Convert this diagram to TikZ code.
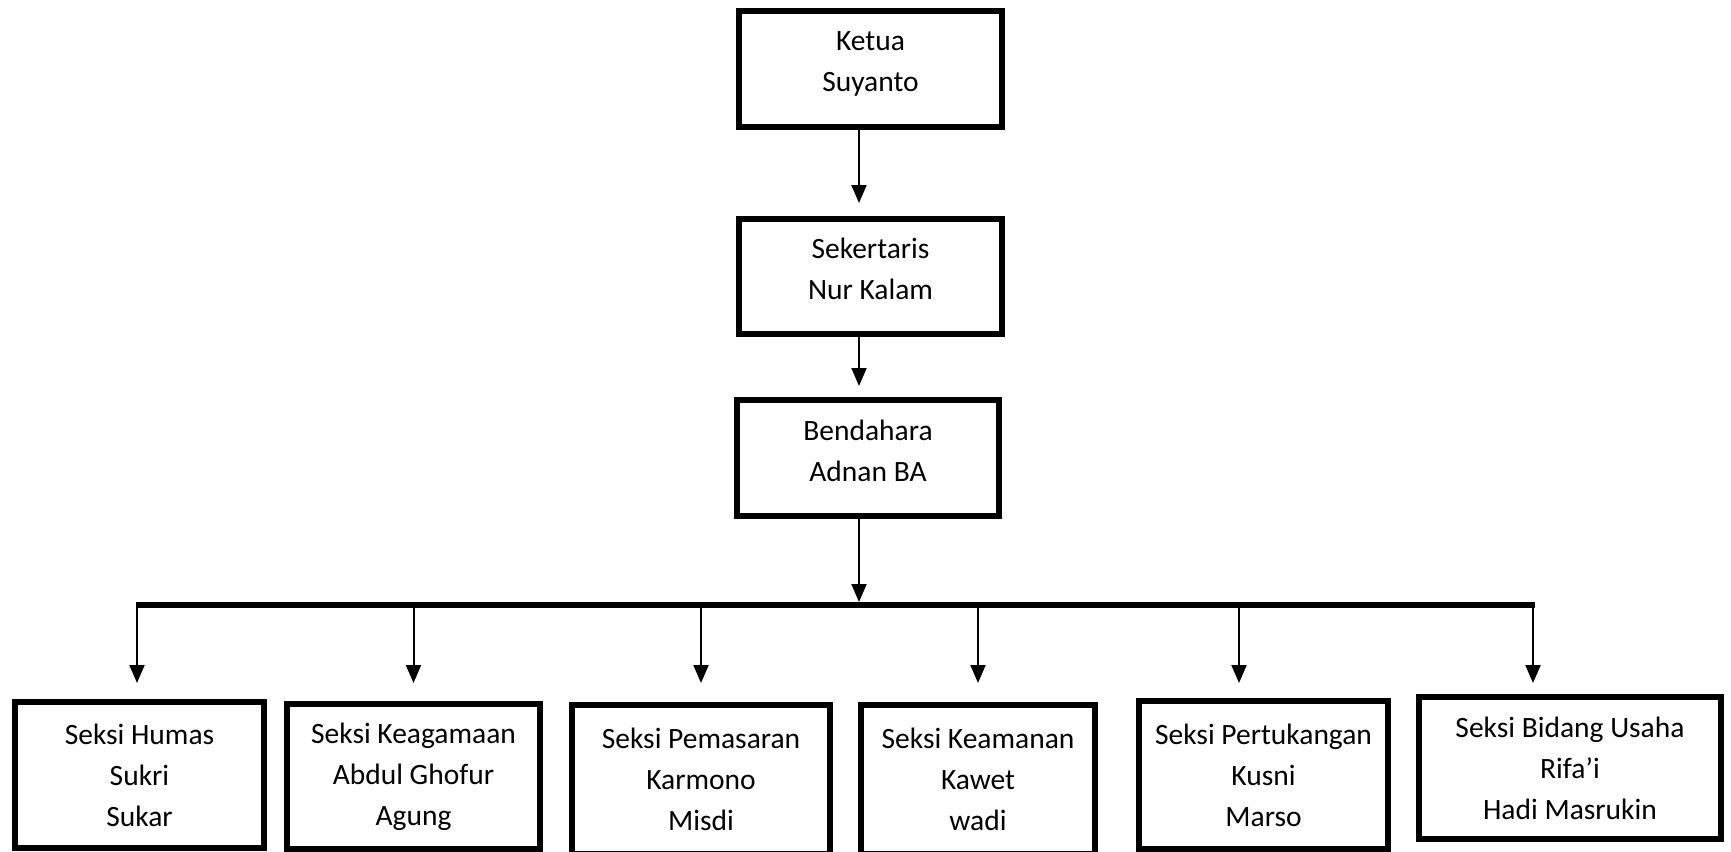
\documentclass[tikz,border=0pt]{standalone}
\usepackage{fontspec}
\setmainfont{Carlito}
\usetikzlibrary{arrows.meta}

\tikzset{
  jabatan/.style={draw, rectangle, line width=6pt, align=center, inner sep=0pt,
                  font=\fontsize{29.5}{41}\selectfont},
  atas/.style={jabatan, text depth=15pt},
  garis/.style={line width=2pt, -{Triangle[width=15pt,length=18pt]}},
}

\begin{document}
\begin{tikzpicture}[x=1pt, y=-1pt]
    \useasboundingbox (0,0) rectangle (1731,851);

    %define the boxes
    \node[atas, minimum width=263pt, minimum height=116pt] (ketua) at (870.5,69) {Ketua\\Suyanto};
    \node[atas, minimum width=263pt, minimum height=115pt] (sekr) at (870.5,276.5) {Sekertaris\\Nur Kalam};
    \node[atas, minimum width=262pt, minimum height=116pt] (bend) at (868,458) {Bendahara\\Adnan BA};

    \node[jabatan, minimum width=249pt, minimum height=146pt] (humas) at (139.5,775) {Seksi Humas\\Sukri\\Sukar};
    \node[jabatan, minimum width=253pt, minimum height=145pt] (agama) at (413.5,776.5) {Seksi Keagamaan\\Abdul Ghofur\\Agung};
    \node[jabatan, minimum width=258pt, minimum height=149pt] (pasar) at (701,779.5) {Seksi Pemasaran\\Karmono\\Misdi};
    \node[jabatan, minimum width=234pt, minimum height=149pt] (aman) at (978,779.5) {Seksi Keamanan\\Kawet\\wadi};
    \node[jabatan, minimum width=249pt, minimum height=148pt] (tukang) at (1263.5,775) {Seksi Pertukangan\\Kusni\\Marso};
    \node[jabatan, minimum width=302pt, minimum height=142pt] (usaha) at (1570,768) {Seksi Bidang Usaha\\Rifa’i\\Hadi Masrukin};

    %define the bus
    \coordinate (busL) at (136,605);
    \coordinate (busR) at (1535,605);
    \coordinate (bus) at (859,602);
    \coordinate (tip) at (0,683);
    \draw[line width=6pt] (busL) -- (busR);

    %define the links
    \draw[garis, shorten >=13pt] ([xshift=-11.5pt]ketua.south) -- ([xshift=-11.5pt]sekr.north);
    \draw[garis, shorten >=11pt] ([xshift=-11.5pt]sekr.south) -- ([xshift=-9pt]bend.north);
    \draw[garis] ([xshift=-9pt]bend.south) -- (bus);
    \foreach \n/\dx in {humas/-2.5, agama/0, pasar/0, aman/0, tukang/-24.5, usaha/-37} {
        \path ([xshift=\dx pt]\n.north) coordinate (top-\n);
        \draw[garis] (top-\n |- busL) -- (top-\n |- tip);
    }

\end{tikzpicture}
\end{document}
